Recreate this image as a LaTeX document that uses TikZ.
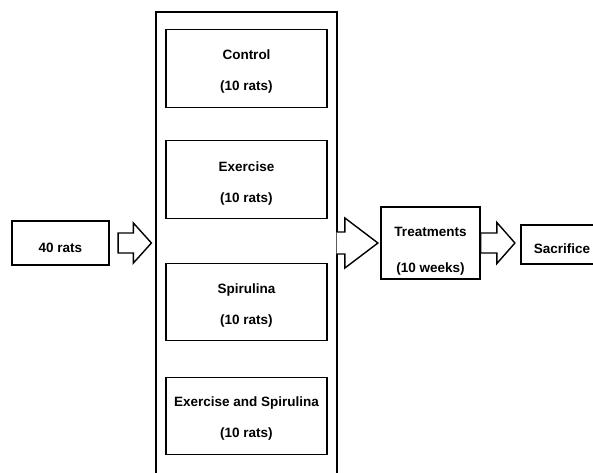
\documentclass[tikz,border=0pt]{standalone}
\usepackage{fontspec}
\setmainfont{Liberation Sans}
\usepackage{tikz}
\usetikzlibrary{calc}
\tikzset{box/.style = {draw, line width=1.2pt, fill=white, inner sep=0}}
\tikzset{txt/.style = {inner sep=0, align=center, font=\bfseries\fontsize{13.5}{16}\selectfont}}
\tikzset{grp/.style = {box, minimum width=161pt, minimum height=77.5pt}}
\tikzset{fat/.style = {draw, fill=white, line width=1.4pt, line join=miter}}
\newcommand{\fatarrow}[6][-- cycle]{%
  \filldraw[fat] let \p1 = (#2), \p2 = (#3) in
    (\x1, \y1 + #4) -- (\x2 - #6, \y1 + #4) -- (\x2 - #6, \y1 + #5) -- (\x2, \y1)
    -- (\x2 - #6, \y1 - #5) -- (\x2 - #6, \y1 - #4) -- (\x1, \y1 - #4) #1;}

\begin{document}
\begin{tikzpicture}[x=1pt, y=-1pt]
      \useasboundingbox (0, 0) rectangle (593, 472);
      \clip (0, 0) rectangle (593, 472);

      \node [box, minimum width=97pt, minimum height=44pt] (rats) at (60.5, 243) {};
      \node [txt] (ratstxt) at ([yshift=-5pt]rats.center) {40 rats};

      \node [box, minimum width=181pt, minimum height=462pt] (groups) at (246.5, 243) {};
      \node [grp] (control) at (246.5, 68.5) {};
      \node [grp] (exercise) at (246.5, 179.5) {};
      \node [grp] (spirulina) at (246.5, 302) {};
      \node [grp] (both) at (246.5, 416) {};
      \node [txt] (controltxt) at ([yshift=-3.5pt]control.center) {Control\\[15pt](10 rats)};
      \node [txt] (exercisetxt) at ([yshift=-4pt]exercise.center) {Exercise\\[15pt](10 rats)};
      \node [txt] (spirulinatxt) at ([yshift=-4pt]spirulina.center) {Spirulina\\[15pt](10 rats)};
      \node [txt] (bothtxt) at ([yshift=-2pt]both.center) {Exercise and Spirulina\\[15pt](10 rats)};

      \node [box, minimum width=99pt, minimum height=72pt] (treat) at (430.5, 243) {};
      \node [txt] (treattxt) at ([yshift=-8pt]treat.center) {Treatments\\[20pt](10 weeks)};

      \node [box, minimum width=82pt, minimum height=39pt] (sacr) at (562, 244.5) {};
      \node [txt] (sacrtxt) at ([yshift=-4pt]sacr.center) {Sacrifice};

      \fatarrow{[xshift=8.5pt]rats.east}{[xshift=-4pt]groups.west}{10pt}{20pt}{18pt}
      \fatarrow[]{[xshift=-1pt]groups.east}{[xshift=-2.5pt]treat.west}{11pt}{25pt}{33pt}
      \fatarrow{treat.east}{[xshift=-5.5pt]sacr.west}{10pt}{20.5pt}{18pt}
\end{tikzpicture}
\end{document}
